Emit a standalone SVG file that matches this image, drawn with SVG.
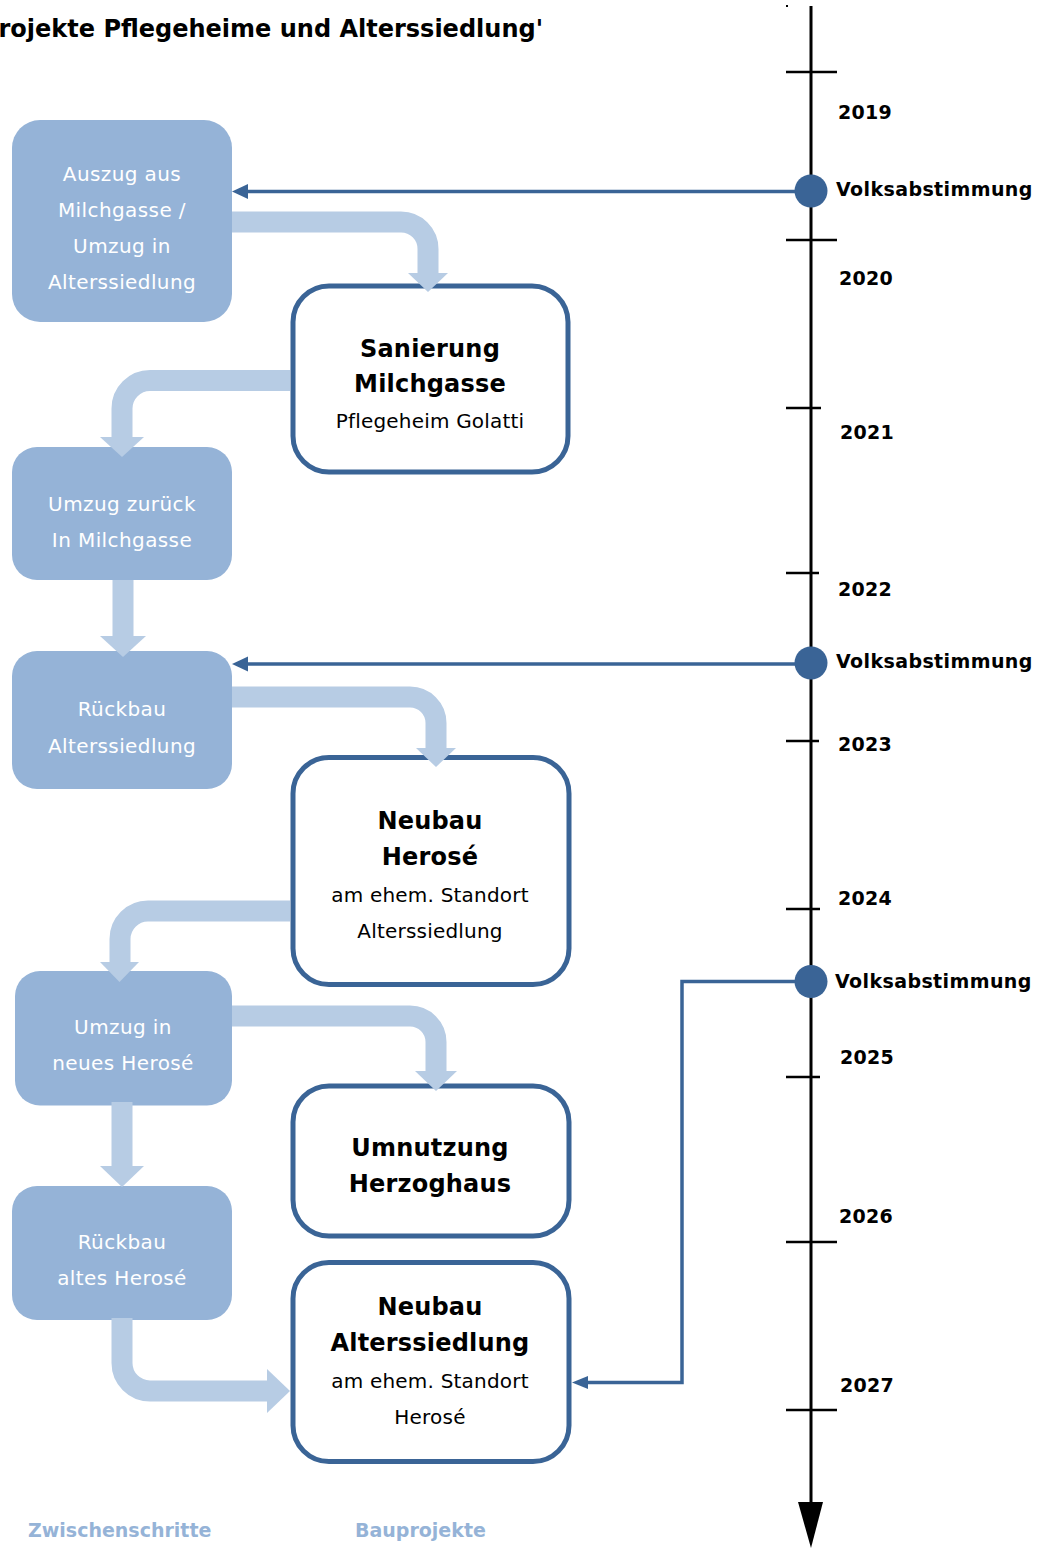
<svg xmlns="http://www.w3.org/2000/svg" width="1050" height="1548" viewBox="0 0 1050 1548">
<style>
text{font-family:"DejaVu Sans","Noto Sans",sans-serif}
.lb{fill:#95b3d7}
.lt{fill:#ffffff;font-size:20px;text-anchor:middle;letter-spacing:0.4px}
.pb{fill:#ffffff;stroke:#3a6496;stroke-width:5}
.pt{fill:#000000;font-size:24px;font-weight:bold;text-anchor:middle;letter-spacing:0.2px}
.ps{fill:#000000;font-size:20px;text-anchor:middle;letter-spacing:0.2px}
.band{fill:none;stroke:#b7cce4;stroke-width:21}
.bh{fill:#b7cce4}
.thin{fill:none;stroke:#3a6496;stroke-width:3.5}
.th{fill:#3a6496}
.tick{stroke:#000000;stroke-width:2.5}
.yr{font-size:19px;font-weight:bold;fill:#000000;letter-spacing:0.3px}
.vs{font-size:19px;font-weight:bold;fill:#000000;letter-spacing:0.4px}
.leg{font-size:19px;font-weight:bold;fill:#95b3d7}
</style>
<rect width="1050" height="1548" fill="#ffffff"/>
<text x="543" y="37" font-size="24" font-weight="bold" text-anchor="end" fill="#000000">rojekte Pflegeheime und Alterssiedlung'</text>

<g id="timeline">
<rect x="786" y="5" width="2" height="2" fill="#000000"/>
<line x1="811" y1="6" x2="811" y2="1506" stroke="#000000" stroke-width="3"/>
<polygon points="798,1502 823,1502 811,1548" fill="#000000"/>
<line class="tick" x1="786" y1="72" x2="837" y2="72"/>
<line class="tick" x1="786" y1="240" x2="837" y2="240"/>
<line class="tick" x1="786" y1="408" x2="821" y2="408"/>
<line class="tick" x1="786" y1="573" x2="819" y2="573"/>
<line class="tick" x1="786" y1="741" x2="819" y2="741"/>
<line class="tick" x1="786" y1="909" x2="820" y2="909"/>
<line class="tick" x1="786" y1="1077" x2="820" y2="1077"/>
<line class="tick" x1="786" y1="1242" x2="837" y2="1242"/>
<line class="tick" x1="786" y1="1410" x2="837" y2="1410"/>
<text class="yr" x="838" y="119">2019</text>
<text class="yr" x="839" y="285">2020</text>
<text class="yr" x="840" y="439">2021</text>
<text class="yr" x="838" y="596">2022</text>
<text class="yr" x="838" y="751">2023</text>
<text class="yr" x="838" y="905">2024</text>
<text class="yr" x="840" y="1064">2025</text>
<text class="yr" x="839" y="1223">2026</text>
<text class="yr" x="840" y="1392">2027</text>
</g>

<g id="vote1">
<circle cx="811" cy="191" r="16.5" fill="#3a6496"/>
<text class="vs" x="836" y="195.5">Volksabstimmung</text>
</g>
<g id="vote2">
<circle cx="811" cy="663" r="16.5" fill="#3a6496"/>
<text class="vs" x="836" y="668">Volksabstimmung</text>
</g>
<g id="vote3">
<circle cx="811" cy="981.5" r="16.5" fill="#3a6496"/>
<text class="vs" x="835" y="988">Volksabstimmung</text>
</g>

<g id="auszug">
<rect class="lb" x="12" y="120" width="220" height="202" rx="28"/>
<text class="lt" x="122" y="181">Auszug aus</text>
<text class="lt" x="122" y="217">Milchgasse /</text>
<text class="lt" x="122" y="253">Umzug in</text>
<text class="lt" x="122" y="289">Alterssiedlung</text>
</g>
<g id="umzug-zurueck">
<rect class="lb" x="12" y="447" width="220" height="133" rx="25"/>
<text class="lt" x="122" y="510.5">Umzug zurück</text>
<text class="lt" x="122" y="546.5">In Milchgasse</text>
</g>
<g id="rueckbau-alterssiedlung">
<rect class="lb" x="12" y="651" width="220" height="138" rx="25"/>
<text class="lt" x="122" y="716">Rückbau</text>
<text class="lt" x="122" y="752.5">Alterssiedlung</text>
</g>
<g id="umzug-herose">
<rect class="lb" x="15" y="971" width="217" height="134.5" rx="25"/>
<text class="lt" x="123" y="1034">Umzug in</text>
<text class="lt" x="123" y="1070">neues Herosé</text>
</g>
<g id="rueckbau-herose">
<rect class="lb" x="12" y="1186" width="220" height="134" rx="25"/>
<text class="lt" x="122" y="1249">Rückbau</text>
<text class="lt" x="122" y="1285">altes Herosé</text>
</g>

<g id="sanierung">
<rect class="pb" x="293" y="286" width="275" height="186" rx="36"/>
<text class="pt" x="430" y="356.5">Sanierung</text>
<text class="pt" x="430" y="391.5">Milchgasse</text>
<text class="ps" x="430" y="428">Pflegeheim Golatti</text>
</g>
<g id="neubau-herose">
<rect class="pb" x="293" y="757.5" width="276" height="227" rx="36"/>
<text class="pt" x="430" y="829">Neubau</text>
<text class="pt" x="430" y="865">Herosé</text>
<text class="ps" x="430" y="902">am ehem. Standort</text>
<text class="ps" x="430" y="938">Alterssiedlung</text>
</g>
<g id="umnutzung">
<rect class="pb" x="293" y="1086" width="276" height="150" rx="36"/>
<text class="pt" x="430" y="1156">Umnutzung</text>
<text class="pt" x="430" y="1192">Herzoghaus</text>
</g>
<g id="neubau-alterssiedlung">
<rect class="pb" x="293" y="1262.5" width="276" height="199" rx="36"/>
<text class="pt" x="430" y="1315">Neubau</text>
<text class="pt" x="430" y="1351">Alterssiedlung</text>
<text class="ps" x="430" y="1388">am ehem. Standort</text>
<text class="ps" x="430" y="1424">Herosé</text>
</g>

<g id="connectors">
<path class="band" d="M232,222 H401 A27,27 0 0 1 428,249 V274"/>
<polygon class="bh" points="408,273 448,273 428,292"/>
<path class="band" d="M290,380.5 H150 A28,28 0 0 0 122,408.5 V438"/>
<polygon class="bh" points="100,437 144,437 122,457"/>
<path class="band" d="M123,580 V637"/>
<polygon class="bh" points="100,636 146,636 123,657"/>
<path class="band" d="M232,697 H410 A26,26 0 0 1 436,723 V749"/>
<polygon class="bh" points="416,748 456,748 436,767"/>
<path class="band" d="M290,911 H148 A28,28 0 0 0 120,939 V963"/>
<polygon class="bh" points="100,962 139,962 119.5,982"/>
<path class="band" d="M232,1016 H410 A26,26 0 0 1 436,1042 V1072"/>
<polygon class="bh" points="415,1071 457,1071 436,1091"/>
<path class="band" d="M122,1102 V1167"/>
<polygon class="bh" points="100,1166 144,1166 122,1187"/>
<path class="band" d="M122,1318 V1363 A28,28 0 0 0 150,1391 H268"/>
<polygon class="bh" points="267,1369 267,1413 290,1391"/>
<line class="thin" x1="795" y1="191.5" x2="246" y2="191.5"/>
<polygon class="th" points="232,191.5 248,184 248,199"/>
<line class="thin" x1="795" y1="664" x2="246" y2="664"/>
<polygon class="th" points="232,664 248,656.5 248,671.5"/>
<path class="thin" d="M795,981.5 H682 V1382.5 H586"/>
<polygon class="th" points="572,1382.5 588,1376 588,1389"/>
</g>

<text class="leg" x="28" y="1537">Zwischenschritte</text>
<text class="leg" x="355" y="1537">Bauprojekte</text>
</svg>
